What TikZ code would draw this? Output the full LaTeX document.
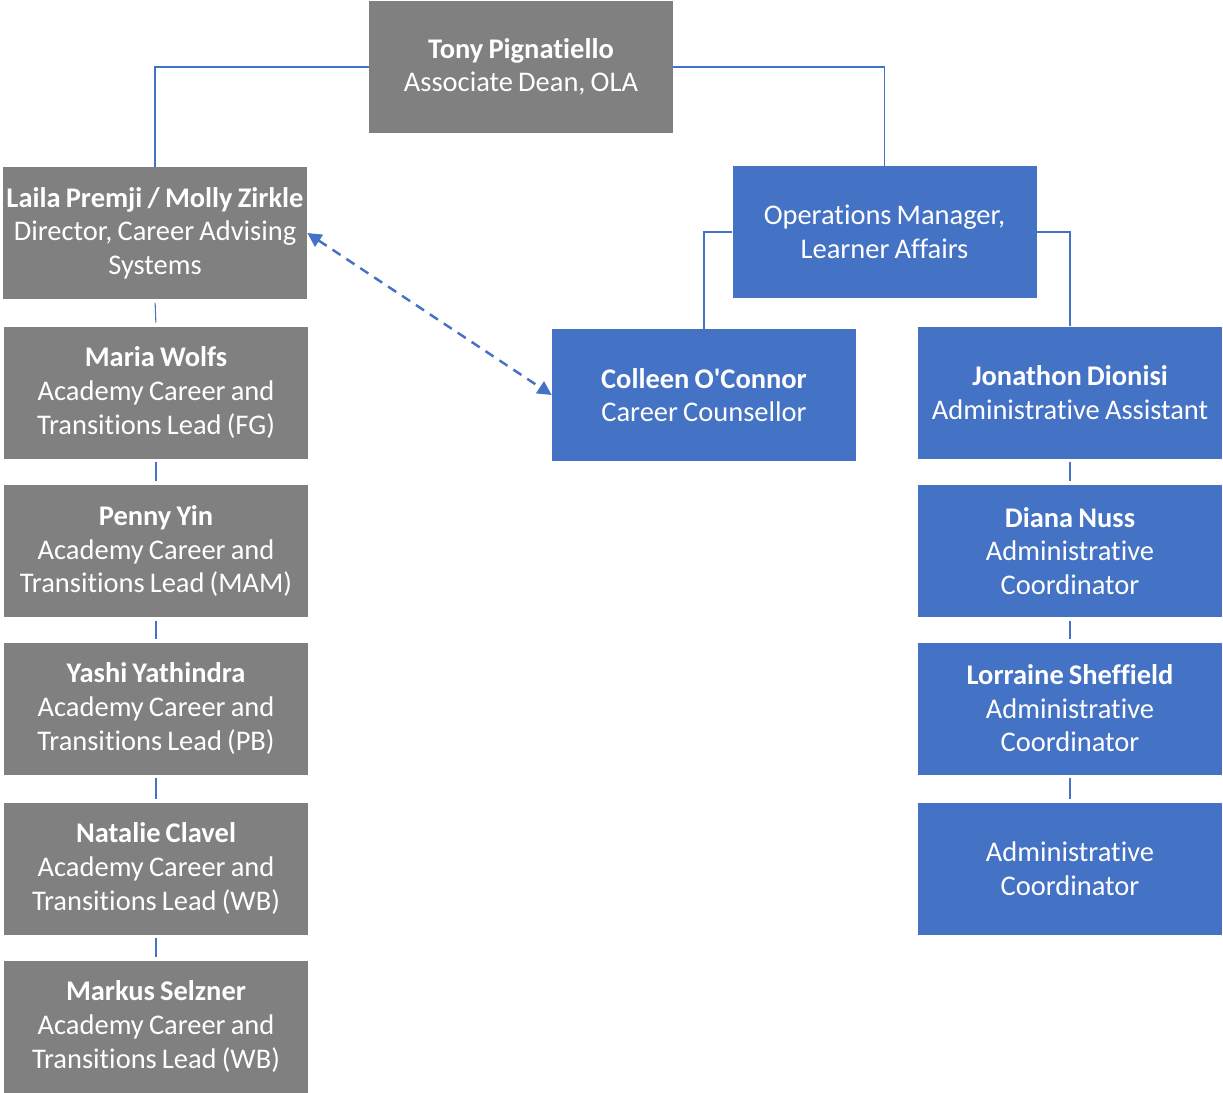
\documentclass[tikz,border=0pt]{standalone}
\usepackage{fontspec}
\setmainfont{Carlito}[Ligatures=NoCommon, WordSpace=0.8]
\usepackage{xcolor}
\usetikzlibrary{arrows.meta}
\definecolor{boxgray}{HTML}{808080}
\definecolor{boxblue}{HTML}{4472C4}
\definecolor{link}{HTML}{4472C4}
\tikzset{
  card/.style={inner sep=0pt, minimum width=6.08cm, minimum height=2.64cm,
    align=center, text=white, font=\fontsize{16.2}{19.1}\selectfont},
  grey/.style={card, fill=boxgray},
  blue/.style={card, fill=boxblue},
  wire/.style={draw=link, line width=0.6pt},
  gapwire/.style={wire, shorten <=2pt, shorten >=2pt},
  dual/.style={draw=link, line width=1.4pt, dash pattern=on 5.5pt off 4pt,
    {Triangle[length=8pt,width=8pt]}-{Triangle[length=8pt,width=8pt]}},
}

\begin{document}
\begin{tikzpicture}
  \useasboundingbox (0,0) rectangle (24.46,-21.84);

  % top
  \node[grey] (tony) at (10.42,-1.34) {\textbf{Tony Pignatiello}\\Associate Dean, OLA};

  % left column
  \node[grey] (laila) at (3.10,-4.66) {\textbf{Laila Premji / Molly Zirkle}\\Director, Career Advising\\Systems};
  \node[grey] (maria) at (3.12,-7.85) {\textbf{Maria Wolfs}\\Academy Career and\\Transitions Lead (FG)};
  \node[grey] (penny) at (3.12,-11.02) {\textbf{Penny Yin}\\Academy Career and\\Transitions Lead (MAM)};
  \node[grey] (yashi) at (3.12,-14.17) {\textbf{Yashi Yathindra}\\Academy Career and\\Transitions Lead (PB)};
  \node[grey] (natalie) at (3.12,-17.37) {\textbf{Natalie Clavel}\\Academy Career and\\Transitions Lead (WB)};
  \node[grey] (markus) at (3.12,-20.53) {\textbf{Markus Selzner}\\Academy Career and\\Transitions Lead (WB)};

  % right side
  \node[blue] (ops) at (17.69,-4.64) {Operations Manager,\\Learner Affairs};
  \node[blue] (colleen) at (14.08,-7.90) {\textbf{Colleen O\textquotesingle Connor}\\Career Counsellor};
  \node[blue] (jon) at (21.40,-7.85) {\textbf{Jonathon Dionisi}\\Administrative Assistant};
  \node[blue] (diana) at (21.40,-11.02) {\textbf{Diana Nuss}\\Administrative\\Coordinator};
  \node[blue] (lorraine) at (21.40,-14.17) {\textbf{Lorraine Sheffield}\\Administrative\\Coordinator};
  \node[blue] (admin) at (21.40,-17.37) {Administrative\\Coordinator};

  \draw[wire] (tony.west) -| (laila.north);
  \draw[wire] (tony.east) -| (ops.north);
  \draw[wire] (ops.west) -| (colleen.north);
  \draw[wire] (ops.east) -| (jon.north);

  \draw[gapwire] (laila.south) -- (maria.north);
  \draw[gapwire] (maria.south) -- (penny.north);
  \draw[gapwire] (penny.south) -- (yashi.north);
  \draw[gapwire] (yashi.south) -- (natalie.north);
  \draw[gapwire] (natalie.south) -- (markus.north);
  \draw[gapwire] (jon.south) -- (diana.north);
  \draw[gapwire] (diana.south) -- (lorraine.north);
  \draw[gapwire] (lorraine.south) -- (admin.north);

  \draw[dual] (laila.east) -- (colleen.west);
\end{tikzpicture}
\end{document}
